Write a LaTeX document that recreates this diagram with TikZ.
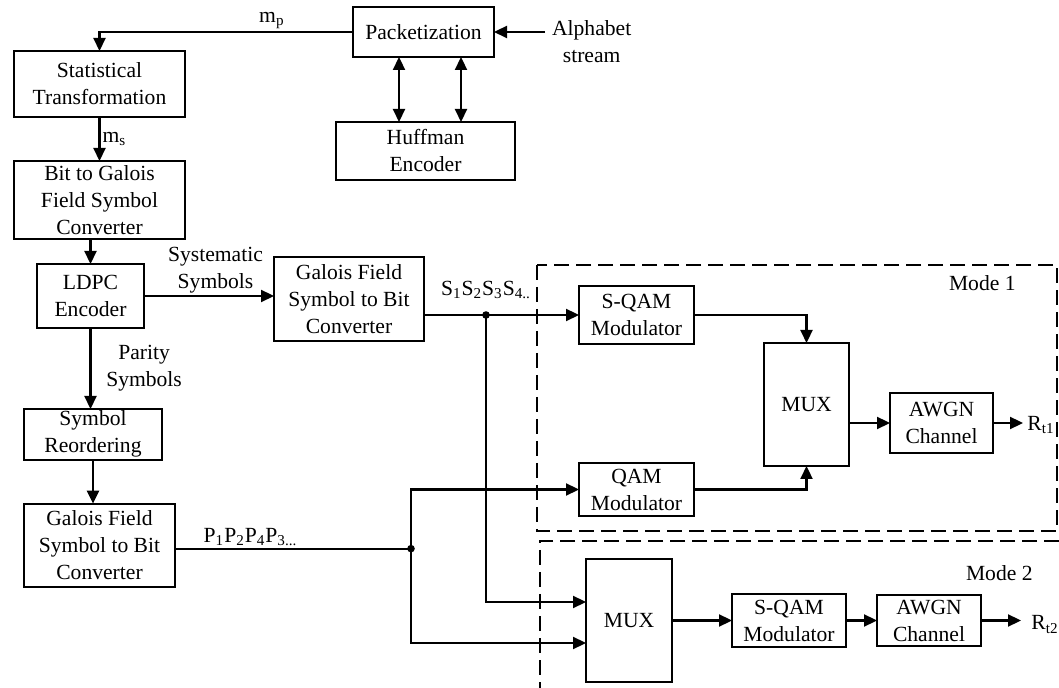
\documentclass[tikz,border=0pt]{standalone}
\usepackage{fontspec}
\setmainfont{Liberation Serif}
\usepackage{tikz}
\usetikzlibrary{arrows.meta,positioning}

\begin{document}
\begin{tikzpicture}[
    every node/.style={font=\fontsize{10.8}{13.5}\selectfont, align=center},
    block/.style={draw, line width=1.1pt, inner sep=1pt, outer sep=0pt},
    edge/.style={-{Triangle[length=6.5pt,width=6pt]}, line width=1.1pt},
    dedge/.style={{Triangle[length=6.5pt,width=6pt]}-{Triangle[length=6.5pt,width=6pt]},
        line width=1.1pt},
    wire/.style={line width=1.1pt},
    modebox/.style={dash pattern=on 7.5pt off 3.5pt, line width=1.1pt},
    lbl/.style={inner sep=1pt}
]
\useasboundingbox (0,0) rectangle (529.5pt,-344pt);
\coordinate (pagebr) at (529.5pt,-344pt);

% source chain, left column
\node[block, minimum width=85.5pt, minimum height=33pt] (stat) at (49.75pt,-42pt)
    {Statistical\\Transformation};
\node[block, minimum width=85.5pt, minimum height=39pt, below=22pt of stat] (bitgf)
    {Bit to Galois\\Field Symbol\\Converter};
\node[block, minimum width=53.5pt, minimum height=32pt, below=12.5pt of bitgf, xshift=-4.5pt] (ldpc)
    {LDPC\\Encoder};
\node[block, minimum width=69pt, minimum height=25pt, below=40.5pt of ldpc, xshift=1.25pt] (reord)
    {Symbol\\Reordering};
\node[block, minimum width=75.5pt, minimum height=41.5pt, below=22pt of reord, xshift=3.25pt] (gfbit2)
    {Galois Field\\Symbol to Bit\\Converter};
\node[block, minimum width=75pt, minimum height=42pt, right=65pt of ldpc, yshift=-1.5pt] (gfbit1)
    {Galois Field\\Symbol to Bit\\Converter};

% packetization
\node[block, minimum width=70.5pt, minimum height=25pt, right=84pt of stat, yshift=26pt] (pack)
    {Packetization};
\node[block, minimum width=89.5pt, minimum height=29pt, below=32.5pt of pack, xshift=1pt] (huff)
    {Huffman\\Encoder};
\node[right=25.5pt of pack, yshift=-5pt] (alpha) {Alphabet\\stream};

% mode 1
\node[block, minimum width=57.5pt, minimum height=29pt, right=77.5pt of gfbit1, yshift=-8pt] (sqam1)
    {S-QAM\\Modulator};
\node[block, minimum width=57.5pt, minimum height=26.5pt, below=59.5pt of sqam1] (qam)
    {QAM\\Modulator};
\node[block, minimum width=42.5pt, minimum height=61.5pt, right=35pt of sqam1, yshift=-44.75pt] (mux1)
    {MUX};
\node[block, minimum width=51.5pt, minimum height=30pt, right=20.5pt of mux1, yshift=-9.25pt] (awgn1)
    {AWGN\\Channel};
\node[inner sep=2pt, right=15pt of awgn1, yshift=-1pt] (rt1) {R\textsubscript{t1}};

% mode 2
\node[block, minimum width=43pt, minimum height=61.5pt, below=21.5pt of qam, xshift=-3.75pt] (mux2)
    {MUX};
\node[block, minimum width=57pt, minimum height=26.5pt, right=30pt of mux2] (sqam2)
    {S-QAM\\Modulator};
\node[block, minimum width=52pt, minimum height=25.5pt, right=15.5pt of sqam2] (awgn2)
    {AWGN\\Channel};
\node[inner sep=5pt, right=20pt of awgn2, yshift=-2pt] (rt2) {R\textsubscript{t2}};

% dashed mode frames
\coordinate (m1a) at ([xshift=-21pt,yshift=10.5pt]sqam1.north west);
\coordinate (m1b) at ([xshift=32pt,yshift=-39pt]awgn1.south east);
\draw[modebox] (m1a) rectangle (m1b);
\node[anchor=north east, inner sep=0pt] (mode1) at ([xshift=-20.5pt,yshift=-5pt]m1b |- m1a) {Mode 1};
\coordinate (m2a) at ([xshift=-23pt,yshift=9pt]mux2.north west);
\draw[modebox] (m2a -| pagebr) -- (m2a) -- (m2a |- pagebr);
\node[anchor=north east, inner sep=0pt] (mode2) at ([xshift=-13pt,yshift=-12pt]pagebr |- m2a) {Mode 2};

% branch points
\path (gfbit1.east |- sqam1.west) ++(31pt,0) coordinate (sdot);
\path (gfbit2.east) ++(118pt,-1.75pt) coordinate (pdot);

\draw[edge] (pack.west) -| node[lbl, above, pos=0.16] {m\textsubscript{p}} (stat.north);
\draw[edge] (alpha.west |- pack.east) -- (pack.east);
\draw[dedge] ([xshift=-12.25pt]pack.south) -- ++(0,-32.5pt);
\draw[dedge] ([xshift=18.75pt]pack.south) -- ++(0,-32.5pt);
\draw[edge] (stat) -- node[lbl, right] {m\textsubscript{s}} (bitgf);
\draw[edge] (ldpc.north |- bitgf.south) -- (ldpc.north);
\draw[edge] (ldpc.east) -- node[lbl, above, pos=0.55] {Systematic\\Symbols} (ldpc.east -| gfbit1.west);
\draw[edge] (ldpc.south) -- node[right, xshift=4pt] {Parity\\Symbols} (ldpc.south |- reord.north);
\draw[edge] (reord.south) -- (reord.south |- gfbit2.north);

\draw[edge] (gfbit1.east |- sqam1.west) -- (sqam1.west);
\fill (sdot) circle (1.9pt);
\node[lbl, above=7pt of sdot] (slab)
    {S\textsubscript{1}S\textsubscript{2}S\textsubscript{3}S\textsubscript{4..}};
\draw[edge] (sdot) |- ([yshift=9.25pt]mux2.west);
\draw[wire] (gfbit2.east |- pdot) -- node[lbl, above, pos=0.32]
    {P\textsubscript{1}P\textsubscript{2}P\textsubscript{4}P\textsubscript{3...}} (pdot);
\fill (pdot) circle (1.9pt);
\draw[edge] (pdot) |- (qam.west);
\draw[edge] (pdot) |- ([yshift=-11.25pt]mux2.west);

\draw[edge] (sqam1.east) -| (mux1.north);
\draw[edge] (qam.east) -| (mux1.south);
\draw[edge] (mux1.east |- awgn1.west) -- (awgn1.west);
\draw[edge] (awgn1.east) -- (awgn1.east -| rt1.west);
\draw[edge] (mux2) -- (sqam2);
\draw[edge] (sqam2) -- (awgn2);
\draw[edge] (awgn2.east) -- (awgn2.east -| rt2.west);
\end{tikzpicture}
\end{document}
